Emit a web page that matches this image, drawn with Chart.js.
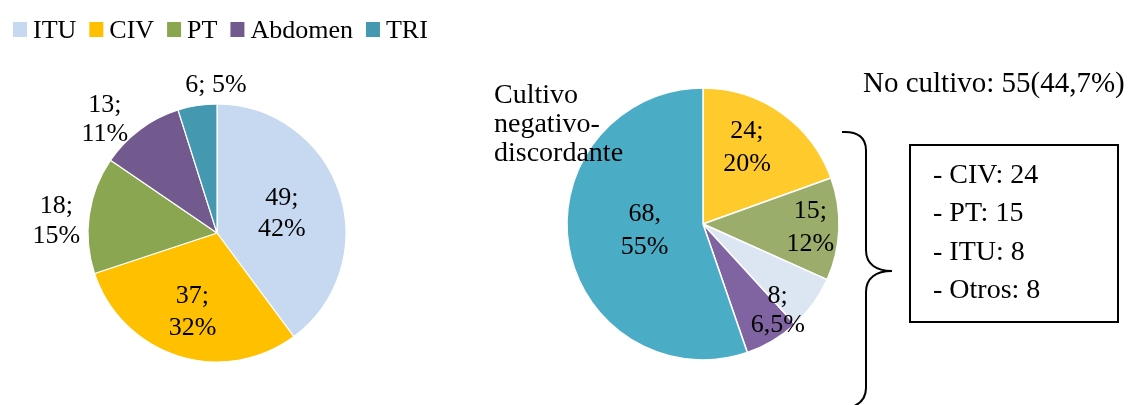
<!DOCTYPE html>
<html>
<head>
<meta charset="utf-8">
<title>Foco infeccioso</title>
<style>
  html, body { margin: 0; padding: 0; background: #ffffff; }
  #wrap { position: relative; width: 1137px; height: 405px; overflow: hidden; }
  #wrap canvas { position: absolute; left: 0; top: 0; }
</style>
<script src="https://cdn.jsdelivr.net/npm/chart.js@4.4.1/dist/chart.umd.min.js"></script>
</head>
<body>
<div id="wrap">
  <canvas id="leftPie" width="1137" height="405"></canvas>
  <canvas id="rightPie" width="1137" height="405"></canvas>
</div>
<script>
// Left pie: all patients by infection focus
const leftLabels = ['ITU', 'CIV', 'PT', 'Abdomen', 'TRI'];
const leftValues = [49, 37, 18, 13, 6];
const leftPctText = ['42%', '32%', '15%', '11%', '5%'];
const leftColors = ['#C6D9F1', '#FFC000', '#8BA650', '#725A8F', '#4499B1'];

// Right pie: culture result breakdown
const rightLabels = ['CIV', 'PT', 'ITU', 'Otros', 'Cultivo negativo-discordante'];
const rightValues = [24, 15, 8, 8, 68];
const rightPctText = ['20%', '12%', '6,5%', null, '55%'];
const rightSep = [';', ';', ';', null, ','];
const rightColors = ['#FFCA2C', '#9AAD6A', '#DCE6F2', '#8064A2', '#4BACC6'];

// Number of right-pie categories grouped as "No cultivo"
const noCultivoCount = 4;

const SERIF = '"Liberation Serif", "Times New Roman", serif';

// Label placement around each arc: angle shift (deg), radial factor, line gap
const leftLabelLayout = [
  { shift: 0,    factor: 0.53, gap: 31, wrap: true },
  { shift: 0,    factor: 0.63, gap: 32, wrap: true },
  { shift: -3,   factor: 1.25, gap: 30, wrap: true },
  { shift: -7.5, factor: 1.25, gap: 29, wrap: true },
  { shift: 8.4,  factor: 1.16, gap: 0,  wrap: false }
];
const rightLabelLayout = [
  { shift: -5.8, factor: 0.66, gap: 33 },
  { shift: -1.4, factor: 0.79, gap: 33 },
  { shift: 12.7, factor: 0.83, gap: 29 },
  null,
  { shift: 5.1,  factor: 0.43, gap: 33 }
];

function drawLines(ctx, lines, cx, cy, gap) {
  const n = lines.length;
  lines.forEach((t, k) => {
    const y = cy + (k - (n - 1) / 2) * gap + 9;
    ctx.fillText(t, cx, y);
  });
}

function arcAnchor(arc, shiftDeg, factor) {
  const mid = (arc.startAngle + arc.endAngle) / 2 + shiftDeg * Math.PI / 180;
  return {
    x: arc.x + Math.cos(mid) * arc.outerRadius * factor,
    y: arc.y + Math.sin(mid) * arc.outerRadius * factor
  };
}

// Slice labels + legend for the left pie
const leftDecor = {
  id: 'leftDecor',
  afterDraw(chart) {
    const ctx = chart.ctx;
    const arcs = chart.getDatasetMeta(0).data;
    ctx.save();
    ctx.fillStyle = '#000';
    ctx.font = '26px ' + SERIF;
    ctx.textAlign = 'center';
    ctx.textBaseline = 'alphabetic';
    arcs.forEach((arc, i) => {
      const lay = leftLabelLayout[i];
      const p = arcAnchor(arc, lay.shift, lay.factor);
      const lines = lay.wrap
        ? [leftValues[i] + ';', leftPctText[i]]
        : [leftValues[i] + '; ' + leftPctText[i]];
      drawLines(ctx, lines, p.x, p.y, lay.gap);
    });

    // legend row
    ctx.textAlign = 'left';
    let x = 13;
    leftLabels.forEach((lab, i) => {
      ctx.fillStyle = leftColors[i];
      ctx.fillRect(x, 22, 14, 15);
      x += 20;
      ctx.fillStyle = '#000';
      ctx.fillText(lab, x, 38);
      x += ctx.measureText(lab).width + 13;
    });
    ctx.restore();
  }
};

// Slice labels, side note, brace and summary box for the right pie
const rightDecor = {
  id: 'rightDecor',
  afterDraw(chart) {
    const ctx = chart.ctx;
    const arcs = chart.getDatasetMeta(0).data;
    ctx.save();
    ctx.fillStyle = '#000';
    ctx.font = '26px ' + SERIF;
    ctx.textAlign = 'center';
    ctx.textBaseline = 'alphabetic';
    arcs.forEach((arc, i) => {
      const lay = rightLabelLayout[i];
      if (!lay) return;
      const p = arcAnchor(arc, lay.shift, lay.factor);
      drawLines(ctx, [rightValues[i] + rightSep[i], rightPctText[i]], p.x, p.y, lay.gap);
    });

    // name of the large slice, wrapped over three lines
    ctx.textAlign = 'left';
    ctx.font = '28px ' + SERIF;
    ['Cultivo', 'negativo-', 'discordante'].forEach((t, k) => {
      ctx.fillText(t, 494, 103 + k * 29);
    });

    // "No cultivo" total
    const total = rightValues.reduce((a, b) => a + b, 0);
    const noCult = rightValues.slice(0, noCultivoCount).reduce((a, b) => a + b, 0);
    const pct = (noCult / total * 100).toFixed(1).replace('.', ',');
    ctx.font = '29px ' + SERIF;
    ctx.fillText('No cultivo: ' + noCult + '(' + pct + '%)', 863, 92);

    // curly brace
    ctx.strokeStyle = '#000';
    ctx.lineWidth = 2;
    ctx.beginPath();
    ctx.moveTo(842, 132);
    ctx.bezierCurveTo(858, 131, 866, 138, 866, 150);
    ctx.lineTo(866, 250);
    ctx.bezierCurveTo(866, 264, 876, 271, 892, 271);
    ctx.bezierCurveTo(876, 271, 866, 278, 866, 292);
    ctx.lineTo(866, 388);
    ctx.bezierCurveTo(866, 398, 860, 404, 852, 407);
    ctx.stroke();

    // summary box
    ctx.lineWidth = 2;
    ctx.strokeRect(910, 145, 208, 177);
    ctx.font = '28px ' + SERIF;
    for (let i = 0; i < noCultivoCount; i++) {
      ctx.fillText('- ' + rightLabels[i] + ': ' + rightValues[i], 933, 183 + i * 38.3);
    }
    ctx.restore();
  }
};

const common = {
  responsive: false,
  animation: false,
  events: [],
  plugins: { legend: { display: false }, tooltip: { enabled: false } }
};

new Chart(document.getElementById('leftPie'), {
  type: 'pie',
  data: {
    labels: leftLabels,
    datasets: [{
      data: leftValues,
      backgroundColor: leftColors,
      borderColor: '#ffffff',
      borderWidth: 1.2,
      radius: 129
    }]
  },
  options: Object.assign({}, common, {
    layout: { padding: { left: 0, right: 703, top: 61, bottom: 0 } }
  }),
  plugins: [leftDecor]
});

new Chart(document.getElementById('rightPie'), {
  type: 'pie',
  data: {
    labels: rightLabels,
    datasets: [{
      data: rightValues,
      backgroundColor: rightColors,
      borderColor: '#ffffff',
      borderWidth: 1.5,
      radius: 136
    }]
  },
  options: Object.assign({}, common, {
    layout: { padding: { left: 303, right: 34, top: 43, bottom: 0 } }
  }),
  plugins: [rightDecor]
});
</script>
</body>
</html>
